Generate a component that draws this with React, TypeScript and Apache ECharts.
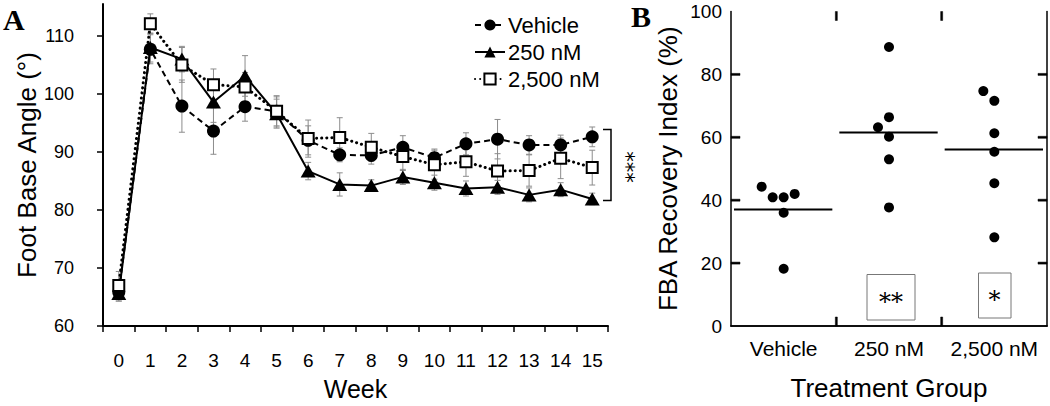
import React, { useEffect, useRef } from "react";
import * as echarts from "echarts";

// ---------- Panel A data ----------
const weeks = ["0", "1", "2", "3", "4", "5", "6", "7", "8", "9", "10", "11", "12", "13", "14", "15"];
const vehicleMean = [65.8, 107.7, 97.9, 93.6, 97.8, 97.0, 92.0, 89.5, 89.4, 90.8, 89.0, 91.4, 92.2, 91.2, 91.2, 92.6];
const vehicleErr = [1.5, 2.5, 4.5, 4.0, 2.5, 2.5, 2.5, 1.2, 1.5, 2.0, 1.5, 1.9, 3.4, 1.6, 1.7, 1.7];
const nm250Mean = [65.6, 108.0, 106.0, 98.6, 103.1, 96.6, 86.7, 84.4, 84.2, 85.7, 84.7, 83.7, 83.9, 82.6, 83.5, 81.9];
const nm250Err = [1.3, 2.5, 2.2, 3.5, 3.5, 2.5, 1.5, 2.0, 1.0, 1.3, 1.3, 1.3, 1.2, 1.2, 1.2, 1.0];
const nm2500Mean = [67.0, 112.1, 105.0, 101.6, 101.2, 97.0, 92.3, 92.5, 90.8, 89.2, 87.8, 88.3, 86.7, 86.8, 88.9, 87.3];
const nm2500Err = [2.4, 1.7, 3.0, 2.7, 2.5, 2.7, 3.2, 3.4, 2.4, 2.4, 2.5, 2.5, 3.0, 2.7, 3.5, 3.0];
const yTicksA = [60, 70, 80, 90, 100, 110];

// ---------- Panel B data ----------
const groups = ["Vehicle", "250 nM", "2,500 nM"];
const vehicleFBA = [44.3, 40.9, 40.9, 42.0, 36.0, 18.2];
const nm250FBA = [88.7, 63.2, 66.4, 60.2, 53.0, 37.7];
const nm2500FBA = [74.7, 71.6, 61.3, 55.4, 45.4, 28.2];
// horizontal jitter of the dots (px)
const vehicleJitter = [-22, -11, 0, 11, 0, 0];
const nm250Jitter = [0, -11, 0, 0, 0, 0];
const nm2500Jitter = [-11, 0, 0, 0, 0, 0];
const yTicksB = [20, 40, 60, 80];

const FONT = "'Liberation Sans', Arial, Helvetica, sans-serif";
const mean = (a: number[]) => a.reduce((s, v) => s + v, 0) / a.length;

// panel B grid geometry (px)
const GB = { left: 731, right: 3, top: 11.5, bottom: 80 };
const W = 1050;
const H = 406;

function errData(m: number[], e: number[]) {
  return m.map((v, i) => [i, v - e[i], v + e[i]]);
}

const errRender = (params: any, api: any) => {
  const x = api.value(0);
  const lo = api.coord([x, api.value(1)]);
  const hi = api.coord([x, api.value(2)]);
  const w = 3;
  const st = { stroke: "#8c8c8c", lineWidth: 1 };
  return {
    type: "group",
    children: [
      { type: "line", shape: { x1: lo[0], y1: lo[1], x2: hi[0], y2: hi[1] }, style: st },
      { type: "line", shape: { x1: lo[0] - w, y1: lo[1], x2: lo[0] + w, y2: lo[1] }, style: st },
      { type: "line", shape: { x1: hi[0] - w, y1: hi[1], x2: hi[0] + w, y2: hi[1] }, style: st },
    ],
  };
};

const meanRender = (params: any, api: any) => {
  const c = api.coord([api.value(0), api.value(1)]);
  const bw = api.size([1, 0])[0];
  return {
    type: "line",
    shape: { x1: c[0] - bw / 2 + 3, y1: c[1], x2: c[0] + bw / 2 - 4, y2: c[1] },
    style: { stroke: "#000", lineWidth: 2 },
  };
};

export default function App() {
  const ref = useRef<HTMLDivElement>(null);
  useEffect(() => {
    document.body.style.margin = "0";
    const chart = echarts.init(ref.current!, undefined, { renderer: "svg" });

    // inward frame ticks of panel B as small filled rects
    const T = 9;
    const TH = 2;
    const bl = GB.left;
    const br = W - GB.right;
    const bt = GB.top;
    const bb = H - GB.bottom;
    const ph = bb - bt;
    const band = (br - bl) / groups.length;
    const tickRects: any[] = [];
    yTicksB.forEach((v) => {
      const y = bb - (v / 100) * ph;
      tickRects.push({ type: "rect", z: 100, shape: { x: bl, y: y - TH / 2, width: T, height: TH }, style: { fill: "#000", stroke: "#000", lineWidth: 0.5 } });
      tickRects.push({ type: "rect", z: 100, shape: { x: br - T, y: y - TH / 2, width: T, height: TH }, style: { fill: "#000", stroke: "#000", lineWidth: 0.5 } });
    });
    [1, 2].forEach((k) => {
      const x = bl + k * band;
      tickRects.push({ type: "rect", z: 100, shape: { x: x - TH / 2, y: bb - T, width: TH, height: T }, style: { fill: "#000", stroke: "#000", lineWidth: 0.5 } });
      tickRects.push({ type: "rect", z: 100, shape: { x: x - TH / 2, y: bt, width: TH, height: T }, style: { fill: "#000", stroke: "#000", lineWidth: 0.5 } });
    });

    const option: any = {
      animation: false,
      backgroundColor: "#fff",
      textStyle: { fontFamily: FONT, color: "#000" },
      grid: [
        { left: 103, right: 442, top: 4, bottom: 79 },
        { left: GB.left, right: GB.right, top: GB.top, bottom: GB.bottom },
      ],
      legend: {
        orient: "vertical",
        left: 469,
        top: 9,
        itemWidth: 30,
        itemHeight: 14,
        itemGap: 5,
        textStyle: { fontSize: 22, fontFamily: FONT, color: "#000", padding: [0, 0, 0, -2] },
        data: ["Vehicle", "250 nM", "2,500 nM"],
      },
      xAxis: [
        {
          type: "category",
          gridIndex: 0,
          data: weeks,
          boundaryGap: true,
          name: "Week",
          nameLocation: "middle",
          nameGap: 50,
          nameTextStyle: { fontSize: 25, color: "#000", fontFamily: FONT },
          axisLine: { lineStyle: { color: "#000", width: 2 } },
          axisTick: { show: true, length: 6, interval: 0, lineStyle: { color: "#000", width: 1.5 } },
          axisLabel: { fontSize: 19, color: "#000", margin: 25, fontFamily: FONT, interval: 0 },
          splitLine: { show: false },
        },
        {
          type: "category",
          gridIndex: 1,
          data: groups,
          boundaryGap: true,
          name: "Treatment Group",
          nameLocation: "middle",
          nameGap: 49,
          nameTextStyle: { fontSize: 26, color: "#000", fontFamily: FONT },
          axisLine: { lineStyle: { color: "#000", width: 1.5 } },
          axisTick: { show: false },
          axisLabel: { fontSize: 21, color: "#000", margin: 12, fontFamily: FONT, interval: 0, hideOverlap: false },
          splitLine: { show: false },
        },
        {
          type: "category",
          gridIndex: 1,
          position: "top",
          data: groups,
          boundaryGap: true,
          axisLine: { lineStyle: { color: "#000", width: 1.5 } },
          axisTick: { show: false },
          axisLabel: { show: false },
          splitLine: { show: false },
        },
      ],
      yAxis: [
        {
          type: "value",
          gridIndex: 0,
          min: 60,
          max: 115.5,
          name: "Foot Base Angle (°)",
          nameLocation: "middle",
          nameGap: 62,
          nameTextStyle: { fontSize: 26, color: "#000", fontFamily: FONT },
          axisLine: { show: true, lineStyle: { color: "#000", width: 2 } },
          axisTick: { show: true, length: 6, customValues: yTicksA, lineStyle: { color: "#000", width: 1.5 } },
          axisLabel: { fontSize: 18, color: "#000", margin: 29, customValues: yTicksA, fontFamily: FONT },
          splitLine: { show: false },
        },
        {
          type: "value",
          gridIndex: 1,
          min: 0,
          max: 100,
          interval: 20,
          name: "FBA Recovery Index (%)",
          nameLocation: "middle",
          nameGap: 50,
          nameTextStyle: { fontSize: 26, color: "#000", fontFamily: FONT },
          axisLine: { show: true, lineStyle: { color: "#000", width: 1.5 } },
          axisTick: { show: false },
          axisLabel: { fontSize: 19, color: "#000", margin: 9, fontFamily: FONT },
          splitLine: { show: false },
        },
        {
          type: "value",
          gridIndex: 1,
          position: "right",
          min: 0,
          max: 100,
          interval: 20,
          axisLine: { show: true, lineStyle: { color: "#000", width: 1.5 } },
          axisTick: { show: false },
          axisLabel: { show: false },
          splitLine: { show: false },
        },
      ],
      series: [
        // error bars
        { type: "custom", xAxisIndex: 0, yAxisIndex: 0, renderItem: errRender, data: errData(vehicleMean, vehicleErr), z: 1, silent: true },
        { type: "custom", xAxisIndex: 0, yAxisIndex: 0, renderItem: errRender, data: errData(nm250Mean, nm250Err), z: 1, silent: true },
        { type: "custom", xAxisIndex: 0, yAxisIndex: 0, renderItem: errRender, data: errData(nm2500Mean, nm2500Err), z: 1, silent: true },
        {
          name: "Vehicle",
          type: "line",
          xAxisIndex: 0,
          yAxisIndex: 0,
          data: vehicleMean,
          symbol: "circle",
          symbolSize: 13,
          showAllSymbol: true,
          itemStyle: { color: "#000" },
          lineStyle: { color: "#000", width: 2, type: [6, 4] },
          z: 3,
        },
        {
          name: "250 nM",
          type: "line",
          xAxisIndex: 0,
          yAxisIndex: 0,
          data: nm250Mean,
          symbol: "triangle",
          symbolSize: [15, 13],
          showAllSymbol: true,
          itemStyle: { color: "#000" },
          lineStyle: { color: "#000", width: 2 },
          z: 4,
        },
        {
          name: "2,500 nM",
          type: "line",
          xAxisIndex: 0,
          yAxisIndex: 0,
          data: nm2500Mean,
          symbol: "rect",
          symbolSize: 11,
          showAllSymbol: true,
          itemStyle: { color: "#fff", borderColor: "#000", borderWidth: 2 },
          lineStyle: { color: "#000", width: 3, type: [0.1, 5], cap: "round" },
          z: 5,
        },
        // panel B
        {
          type: "scatter",
          xAxisIndex: 1,
          yAxisIndex: 1,
          symbolSize: 10,
          itemStyle: { color: "#000", opacity: 1 },
          data: vehicleFBA.map((v, i) => ({ value: [0, v], symbolOffset: [vehicleJitter[i], 0] })),
          z: 3,
        },
        {
          type: "scatter",
          xAxisIndex: 1,
          yAxisIndex: 1,
          symbolSize: 10,
          itemStyle: { color: "#000", opacity: 1 },
          data: nm250FBA.map((v, i) => ({ value: [1, v], symbolOffset: [nm250Jitter[i], 0] })),
          z: 3,
        },
        {
          type: "scatter",
          xAxisIndex: 1,
          yAxisIndex: 1,
          symbolSize: 10,
          itemStyle: { color: "#000", opacity: 1 },
          data: nm2500FBA.map((v, i) => ({ value: [2, v], symbolOffset: [nm2500Jitter[i], 0] })),
          z: 3,
        },
        {
          type: "custom",
          xAxisIndex: 1,
          yAxisIndex: 1,
          renderItem: meanRender,
          data: [
            [0, mean(vehicleFBA)],
            [1, mean(nm250FBA)],
            [2, mean(nm2500FBA)],
          ],
          z: 2,
          silent: true,
        },
      ],
      graphic: [
        { type: "text", left: 3, top: 4, style: { text: "A", font: "bold 30px 'Liberation Serif', 'Times New Roman', serif", fill: "#000" } },
        { type: "text", left: 631, top: 1, style: { text: "B", font: "bold 30px 'Liberation Serif', 'Times New Roman', serif", fill: "#000" } },
        {
          type: "polyline",
          shape: { points: [[603, 129.5], [611, 129.5], [611, 200.5], [603, 200.5]] },
          style: { stroke: "#000", lineWidth: 1.5, fill: null },
        },
        {
          type: "text",
          x: 626,
          y: 167,
          rotation: -Math.PI / 2,
          style: { text: "***", font: "21px 'DejaVu Sans', sans-serif", fill: "#000", align: "center", verticalAlign: "middle", letterSpacing: 1 },
        },
        { type: "rect", shape: { x: 867, y: 274.5, width: 48, height: 45.5 }, style: { stroke: "#777", lineWidth: 1, fill: "#fff" } },
        { type: "text", x: 891, y: 302, style: { text: "**", font: "24px 'DejaVu Serif', serif", fill: "#000", align: "center", verticalAlign: "middle" } },
        { type: "rect", shape: { x: 978.5, y: 273, width: 32.5, height: 45 }, style: { stroke: "#777", lineWidth: 1, fill: "#fff" } },
        { type: "text", x: 994.5, y: 300, style: { text: "*", font: "24px 'DejaVu Serif', serif", fill: "#000", align: "center", verticalAlign: "middle" } },
        ...tickRects,
      ],
    };
    chart.setOption(option);
    return () => chart.dispose();
  }, []);
  return <div ref={ref} style={{ width: 1050, height: 406 }} />;
}
